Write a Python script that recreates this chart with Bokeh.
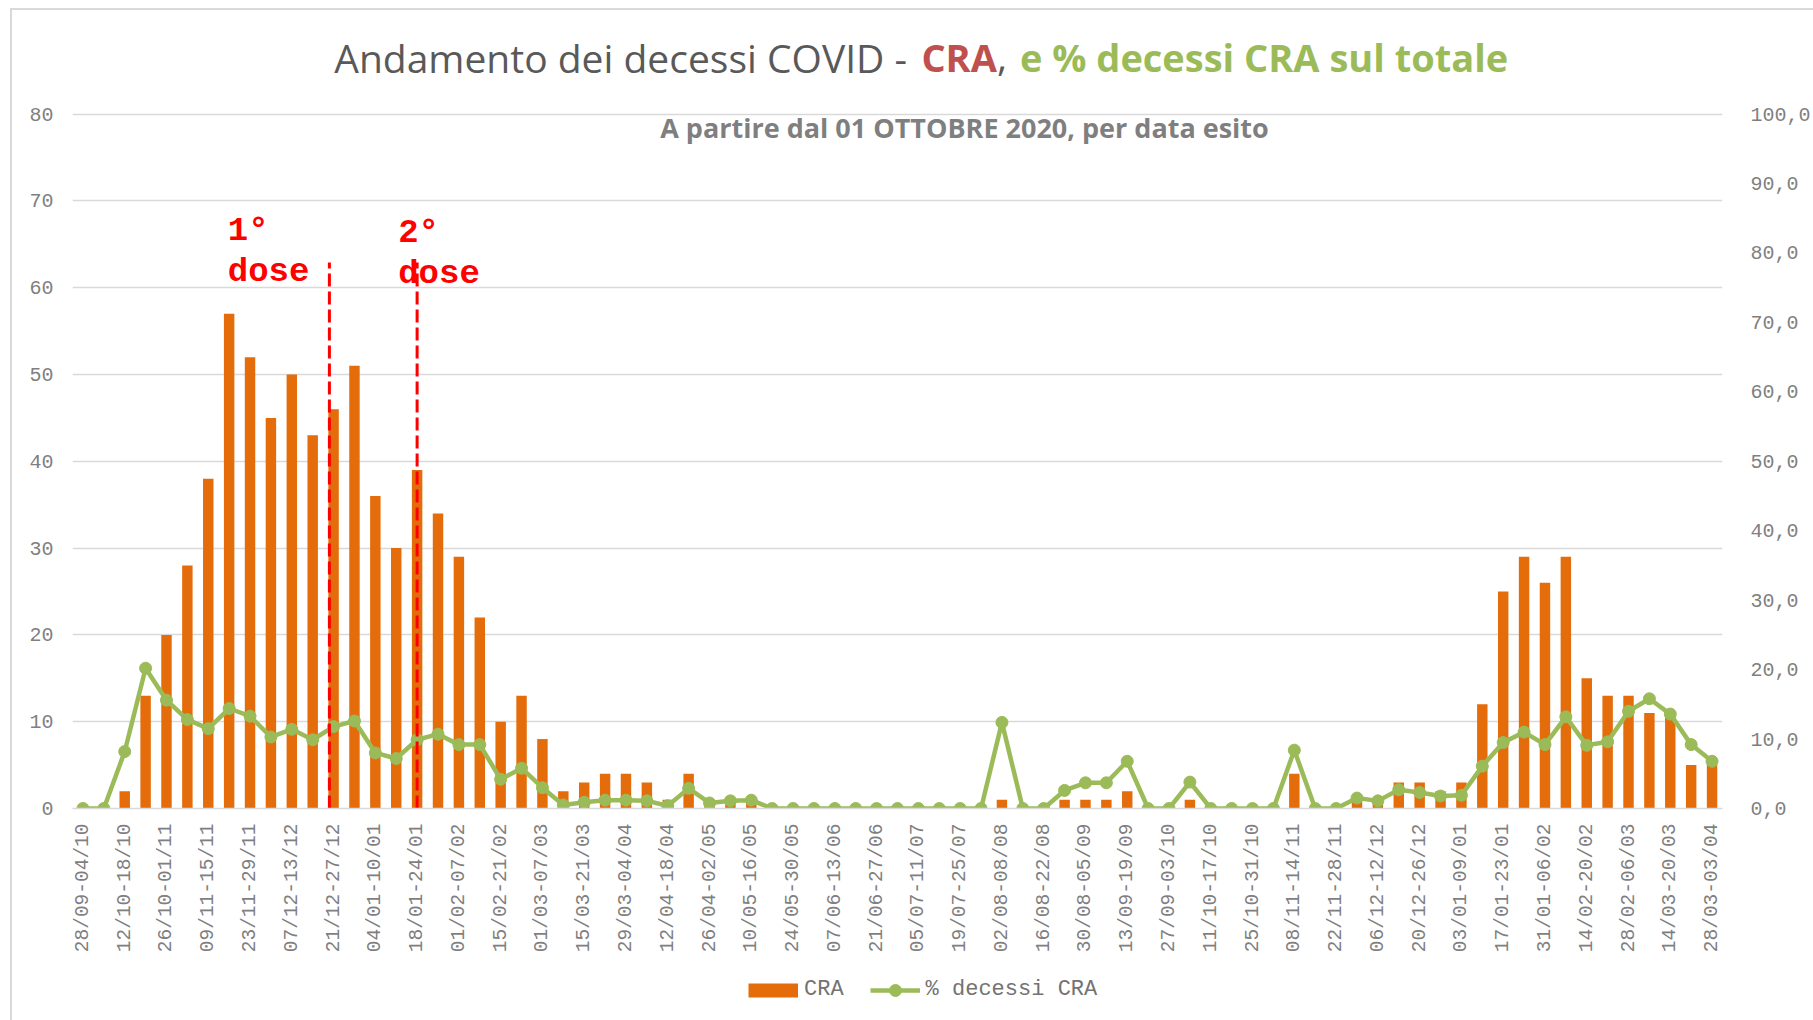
import math
from bokeh.plotting import figure
from bokeh.layouts import column
from bokeh.models import (Range1d, LinearAxis, FixedTicker, Label, Legend, LegendItem,
                          ColumnDataSource)
from bokeh.embed import file_html
from bokeh.resources import INLINE

# ---------------- data ----------------
WEEKS = [
    "28/09-04/10", "05/10-11/10", "12/10-18/10", "19/10-25/10", "26/10-01/11",
    "02/11-08/11", "09/11-15/11", "16/11-22/11", "23/11-29/11", "30/11-06/12",
    "07/12-13/12", "14/12-20/12", "21/12-27/12", "28/12-03/01", "04/01-10/01",
    "11/01-17/01", "18/01-24/01", "25/01-31/01", "01/02-07/02", "08/02-14/02",
    "15/02-21/02", "22/02-28/02", "01/03-07/03", "08/03-14/03", "15/03-21/03",
    "22/03-28/03", "29/03-04/04", "05/04-11/04", "12/04-18/04", "19/04-25/04",
    "26/04-02/05", "03/05-09/05", "10/05-16/05", "17/05-23/05", "24/05-30/05",
    "31/05-06/06", "07/06-13/06", "14/06-20/06", "21/06-27/06", "28/06-04/07",
    "05/07-11/07", "12/07-18/07", "19/07-25/07", "26/07-01/08", "02/08-08/08",
    "09/08-15/08", "16/08-22/08", "23/08-29/08", "30/08-05/09", "06/09-12/09",
    "13/09-19/09", "20/09-26/09", "27/09-03/10", "04/10-10/10", "11/10-17/10",
    "18/10-24/10", "25/10-31/10", "01/11-07/11", "08/11-14/11", "15/11-21/11",
    "22/11-28/11", "29/11-05/12", "06/12-12/12", "13/12-19/12", "20/12-26/12",
    "27/12-02/01", "03/01-09/01", "10/01-16/01", "17/01-23/01", "24/01-30/01",
    "31/01-06/02", "07/02-13/02", "14/02-20/02", "21/02-27/02", "28/02-06/03",
    "07/03-13/03", "14/03-20/03", "21/03-27/03", "28/03-03/04",
]

CRA = [0, 0, 2, 13, 20, 28, 38, 57, 52, 45, 50, 43, 46, 51, 36, 30, 39, 34, 29, 22, 10, 13, 8,
       2, 3, 4, 4, 3, 1, 4, 1, 1, 1,
       0, 0, 0, 0, 0, 0, 0, 0, 0, 0, 0,
       1, 0, 0, 1, 1, 1, 2, 0, 0, 1, 0, 0, 0, 0, 4, 0, 0, 1, 1, 3, 3, 2, 3,
       12, 25, 29, 26, 29, 15, 13, 13, 11, 11, 5, 5]

PCT_CRA = [0, 0, 8.2, 20.2, 15.6, 12.8, 11.5, 14.4, 13.3, 10.3, 11.4, 9.9, 11.8, 12.6, 8.0, 7.2,
           9.9, 10.7, 9.2, 9.2, 4.2, 5.8, 3.0,
           0.5, 0.9, 1.2, 1.2, 1.1, 0.4, 2.9, 0.8, 1.1, 1.2,
           0, 0, 0, 0, 0, 0, 0, 0, 0, 0, 0,
           12.4, 0, 0, 2.6, 3.7, 3.7, 6.8, 0, 0, 3.8, 0, 0, 0, 0, 8.4, 0, 0,
           1.5, 1.1, 2.7, 2.3, 1.8, 1.9,
           6.1, 9.5, 11.0, 9.2, 13.2, 9.1, 9.6, 14.0, 15.8, 13.6, 9.2, 6.8]

LEFT_TICKS = list(range(0, 81, 10))
RIGHT_TICKS = list(range(0, 101, 10))
RIGHT_LABELS = {t: f"{t},0" for t in RIGHT_TICKS}

DOSE_WEEK = [11.8, 16.0]      # position of the vaccination-dose markers (week index)
DOSE_TOP = 62.9               # top of dashed markers (left-axis units)

idx = list(range(len(WEEKS)))
src = ColumnDataSource(dict(x=idx, cra=CRA, pct=PCT_CRA, week=WEEKS))

# ---------------- layout ----------------
W = 1813
H1 = 956
H2 = 1020 - H1                          # legend strip
BL, BR, BT, BB = 72, 83, 0, 148
N = len(WEEKS)
FRAME_W = W - BL - BR
FRAME_H = H1 - BT - BB
PLOT_TOP_PX = 113.6                     # page y of the 80 gridline (top of plot area)
PX_PER_UNIT = (FRAME_H - PLOT_TOP_PX) / 80.0
YTOP = FRAME_H / PX_PER_UNIT            # headroom above 80 holds the title texts

p = figure(width=W, height=H1, output_backend="svg", toolbar_location=None,
           x_range=Range1d(-0.5, N - 0.5), y_range=Range1d(0, YTOP),
           min_border_left=BL, min_border_right=BR, min_border_top=BT, min_border_bottom=BB)
p.extra_y_ranges = {"pct": Range1d(0, YTOP * 100 / 80)}
p.outline_line_color = None
p.background_fill_alpha = 0
p.border_fill_alpha = 0


def px2x(page_x):
    return -0.5 + (page_x - BL) * N / FRAME_W


def px2y(page_y):
    return (BT + FRAME_H - page_y) / PX_PER_UNIT


GRID = "#D9D9D9"
AXTXT = "#7F7F7F"

# grid
p.xgrid.visible = False
p.ygrid.ticker = FixedTicker(ticks=LEFT_TICKS)
p.ygrid.grid_line_color = GRID
p.ygrid.grid_line_width = 1.5

# x axis
xa = p.xaxis[0]
xa.ticker = FixedTicker(ticks=list(range(0, N, 2)))
xa.major_label_overrides = {i: WEEKS[i] for i in range(0, N, 2)}
xa.major_label_orientation = math.pi / 2
xa.major_tick_line_color = None
xa.minor_tick_line_color = None
xa.axis_line_color = GRID
xa.axis_line_width = 1.5
xa.major_label_standoff = 9
xa.major_label_text_font = "Liberation Mono"
xa.major_label_text_font_size = "19.5px"
xa.major_label_text_color = AXTXT

# left axis
ya = p.yaxis[0]
ya.ticker = FixedTicker(ticks=LEFT_TICKS)
ya.axis_line_color = None
ya.major_tick_line_color = None
ya.minor_tick_line_color = None
ya.major_label_standoff = 13
ya.major_label_text_font = "Liberation Mono"
ya.major_label_text_font_size = "20px"
ya.major_label_text_color = AXTXT

# right axis
ra = LinearAxis(y_range_name="pct", ticker=FixedTicker(ticks=RIGHT_TICKS),
                major_label_overrides=RIGHT_LABELS)
ra.axis_line_color = None
ra.major_tick_line_color = None
ra.minor_tick_line_color = None
ra.major_label_standoff = 22
ra.major_label_text_font = "Liberation Mono"
ra.major_label_text_font_size = "20px"
ra.major_label_text_color = AXTXT
p.add_layout(ra, "right")

# ---------------- glyphs ----------------
ORANGE = "#E46C0A"
GREEN = "#9BBB59"
bars = p.vbar(x="x", top="cra", width=0.5, source=src, fill_color=ORANGE, line_color=None)
ln = p.line(x="x", y="pct", source=src, y_range_name="pct", line_color=GREEN, line_width=4.5)
mk = p.scatter(x="x", y="pct", source=src, y_range_name="pct", size=12,
               fill_color=GREEN, line_color=GREEN)

# dashed dose markers
p.segment(x0=DOSE_WEEK, y0=[0, 0], x1=DOSE_WEEK, y1=[DOSE_TOP, DOSE_TOP],
          line_color="#FF0000", line_width=3, line_dash="13 5")

# ---------------- texts ----------------
def lab(px, py, text, size, color, style="normal", font="Open Sans", align="left"):
    p.add_layout(Label(x=px2x(px), y=px2y(py), text=text, text_font=font,
                       text_font_size=size, text_color=color, text_font_style=style,
                       text_align=align, text_baseline="alphabetic"))


TY = 56.5
lab(335, TY, "Andamento dei decessi COVID -", "39px", "#595959")
lab(925, TY, "CRA", "38px", "#C0504D", "bold")
lab(1001, TY, ",", "39px", "#595959")
lab(1024, TY, "e % decessi CRA sul totale", "38px", GREEN, "bold")
lab(968.3, 127.3, "A partire dal 01 OTTOBRE 2020, per data esito", "27px", "#7F7F7F",
    "bold", align="center")

lab(228, 230.5, "1°", "34px", "#FF0000", "bold", font="Liberation Mono")
lab(228, 271, "dose", "34px", "#FF0000", "bold", font="Liberation Mono")
lab(399.3, 232.5, "2°", "34px", "#FF0000", "bold", font="Liberation Mono")
lab(399.3, 273.5, "dose", "34px", "#FF0000", "bold", font="Liberation Mono")

# ---------------- legend strip ----------------
lg = figure(width=W, height=H2, output_backend="svg", toolbar_location=None,
            x_range=Range1d(0, W), y_range=Range1d(0, H2),
            x_axis_type=None, y_axis_type=None, min_border=0)
lg.outline_line_color = None
lg.grid.visible = False
lg.background_fill_alpha = 0
lg.border_fill_alpha = 0
# legend swatches drawn with the same styling as the series (off-range anchor points)
sw_bar = lg.line(x=[-20, -10], y=[-20, -20], line_color=ORANGE, line_width=14, line_cap="butt")
sw_ln = lg.line(x=[-20, -10], y=[-20, -20], line_color=GREEN, line_width=4.5)
sw_mk = lg.scatter(x=[-20], y=[-20], size=12, fill_color=GREEN, line_color=GREEN)
LEG_H = 30
LEG_CENTER = 989.5 - H1                # legend row centre, from top of the strip
legend = Legend(items=[LegendItem(label="CRA", renderers=[sw_bar]),
                       LegendItem(label="% decessi CRA", renderers=[sw_ln, sw_mk])],
                orientation="horizontal",
                location=(748 - BL, H2 - LEG_CENTER - LEG_H / 2),   # strip frame aligns with chart frame
                glyph_width=50, glyph_height=LEG_H, label_standoff=6, spacing=26,
                padding=0, margin=0, border_line_alpha=0, background_fill_alpha=0,
                label_text_font="Liberation Mono", label_text_font_size="22px",
                label_text_color="#737373", label_height=LEG_H)
lg.add_layout(legend, "center")

# light chart-area border (left and top edges, as in the spreadsheet export)
BORDER = ("linear-gradient(#D9D9D9,#D9D9D9) 10px 8px / 2px 1012px no-repeat, "
          "linear-gradient(#D9D9D9,#D9D9D9) 10px 8px / 1803px 2px no-repeat, white")
layout = column(p, lg, spacing=0, styles={"background": BORDER})
open("out.html", "w").write(file_html(layout, INLINE))
